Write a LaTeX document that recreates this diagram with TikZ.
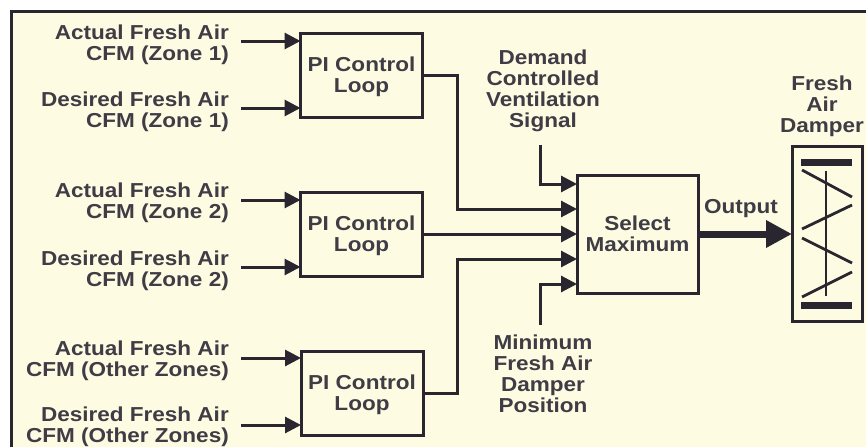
\documentclass[tikz,border=0pt]{standalone}
\usepackage{fontspec}
\setmainfont[FakeStretch=1.115]{Liberation Sans}
\usetikzlibrary{arrows.meta}
\definecolor{paper}{HTML}{FDFCE2}
\definecolor{ink}{HTML}{2A2630}
\newcommand{\pitext}{\rule{0pt}{19pt}PI Control\\Loop}
\tikzset{
  x=1pt,y=-1pt,
  blockbox/.style={draw=ink,line width=3pt,inner sep=0pt,outer sep=0pt,anchor=center,align=center,font=\bfseries\fontsize{20.2}{21}\selectfont,text=ink!90},
  lbl/.style={inner sep=0pt,align=right,anchor=east,yshift=-2.5pt,text=ink!90,font=\bfseries\fontsize{20.2}{21}\selectfont},
  lblc/.style={inner sep=0pt,align=center,anchor=center,yshift=-2pt,text=ink!90,font=\bfseries\fontsize{20.2}{21}\selectfont},
  conn/.style={draw=ink,line width=3pt,-{Triangle[length=16pt,width=16pt]}},
  thick out/.style={draw=ink,line width=7pt,-{Triangle[length=26pt,width=26pt]}},
  dampline/.style={draw=ink,line width=2.8pt},
  dampbar/.style={draw=ink,line width=7pt},
}
\begin{document}
\begin{tikzpicture}
\useasboundingbox (0,0) rectangle (866,447);
\fill[white] (0,0) rectangle (866,447);
\fill[paper] (11,11) rectangle (866,447);
\draw[ink,line width=3pt] (11.5,447) -- (11.5,11.5) -- (866,11.5);

% blocks
\node[blockbox,minimum width=122pt,minimum height=84pt] (pa) at (361.5,75) {\pitext};
\node[blockbox,minimum width=122pt,minimum height=84pt] (pb) at (361.5,234) {\pitext};
\node[blockbox,minimum width=122pt,minimum height=84pt] (pc) at (362,393) {\pitext};
\node[blockbox,minimum width=121pt,minimum height=118pt] (sel) at (637.5,234) {Select\\Maximum};
\node[blockbox,minimum width=70pt,minimum height=175pt] (dmp) at (827,234) {};

% input labels
\node[lbl] (a1) at (229,42) {Actual Fresh Air\\CFM (Zone 1)};
\node[lbl] (d1) at (229,109) {Desired Fresh Air\\CFM (Zone 1)};
\node[lbl] (a2) at (229,200) {Actual Fresh Air\\CFM (Zone 2)};
\node[lbl] (d2) at (229,268) {Desired Fresh Air\\CFM (Zone 2)};
\node[lbl] (a3) at (229,358) {Actual Fresh Air\\CFM (Other Zones)};
\node[lbl] (d3) at (229,424) {Desired Fresh Air\\CFM (Other Zones)};

\node[lblc] (dcv) at (543,88.5) {Demand\\Controlled\\Ventilation\\Signal};
\node[lblc] (minp) at (543,372) {Minimum\\Fresh Air\\Damper\\Position};
\node[lblc] (outl) at (741,207) {Output};
\node[lblc] (fad) at (822,104) {Fresh\\Air\\Damper};

% inputs
\coordinate (ia1) at (241,41); \coordinate (ia2) at (241,108);
\coordinate (ib1) at (241,200); \coordinate (ib2) at (241,267);
\coordinate (ic1) at (241,358); \coordinate (ic2) at (241,425);
\draw[conn] (ia1) -- (pa.west |- ia1);
\draw[conn] (ia2) -- (pa.west |- ia2);
\draw[conn] (ib1) -- (pb.west |- ib1);
\draw[conn] (ib2) -- (pb.west |- ib2);
\draw[conn] (ic1) -- (pc.west |- ic1);
\draw[conn] (ic2) -- (pc.west |- ic2);

% to selector
\coordinate (sa) at (577,209); \coordinate (sb) at (577,234); \coordinate (sc) at (577,259);
\coordinate (sd) at (577,184); \coordinate (se) at (577,284);
\draw[conn] (pa.east) -- (457,75) |- (sa);
\draw[conn] (pb.east) -- (sb);
\draw[conn] (pc.east) -- (457,393) |- (sc);
\draw[conn] (540,145) |- (sd);
\draw[conn] (540,325) |- (se);

% output
\draw[thick out] (sel.east) -- (dmp.west);

% damper symbol
\coordinate (bt1) at (801,162); \coordinate (bt2) at (852,162);
\coordinate (bb1) at (801,305); \coordinate (bb2) at (852,305);
\draw[dampbar] (bt1) -- (bt2);
\draw[dampbar] (bb1) -- (bb2);
\draw[dampline] (826,171) -- (826,296);
\draw[dampline] (802,170) -- (852,197);
\draw[dampline] (802,229) -- (852,205);
\draw[dampline] (802,238) -- (852,263);
\draw[dampline] (802,297) -- (852,272);
\end{tikzpicture}
\end{document}
